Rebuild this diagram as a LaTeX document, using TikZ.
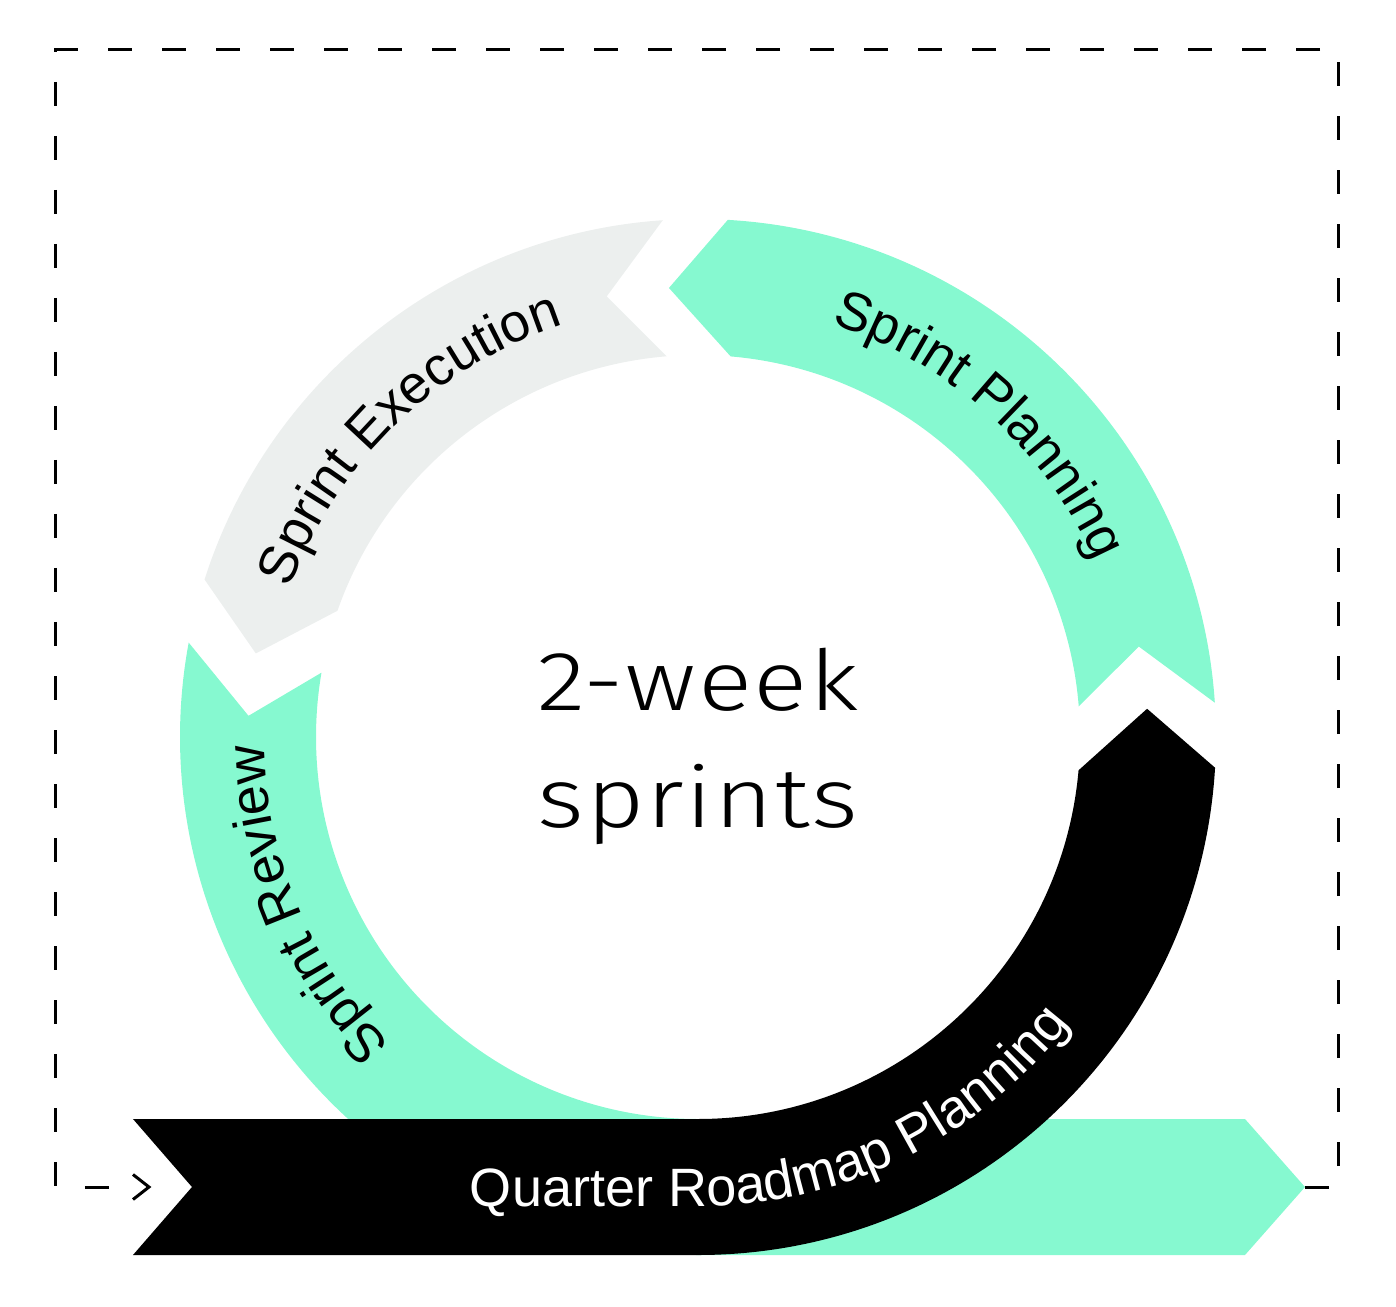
\documentclass[tikz,border=0pt]{standalone}
\usepackage{fontspec}
\setmainfont{Liberation Sans}
\newfontfamily\labelfont{Liberation Sans}
\newfontfamily\weekfont{Fira Sans Light}[FakeStretch=1.2, LetterSpace=2]
\usetikzlibrary{decorations.text, calc}
\definecolor{mint}{HTML}{86F9D0}
\definecolor{mist}{HTML}{ECEFEE}

\begin{document}
\begin{tikzpicture}[x=1pt, y=1pt,
    ringtext/.style={decorate, decoration={text along path, text align=center}},
    weektext/.style={anchor=base, font=\weekfont\fontsize{84}{84}\selectfont},
    frame/.style={line width=3pt, dash pattern=on 24pt off 30pt}]

    \def\Ro{518}
    \def\Ri{382}
    \def\Rm{450}

    \useasboundingbox (-698,-569) rectangle (698,737);

    % roadmap band
    \fill[mint] (0,-\Ri) -- (547,-\Ri) -- (607,-\Rm) coordinate (bandtip)
        -- (547,-\Ro) -- (0,-\Ro) -- cycle;

    % sprint review
    \fill[mint] (169.5:\Ro) arc[start angle=169.5, end angle=270, radius=\Ro]
        -- (270:\Ri) arc[start angle=270, end angle=170.3, radius=\Ri]
        -- (177.3:\Rm) -- cycle;

    % sprint execution
    \fill[mist] (93.9:\Ro) arc[start angle=93.9, end angle=162.3, radius=\Ro]
        -- (169.3:\Rm) -- (160.7:\Ri)
        arc[start angle=160.7, end angle=94.7, radius=\Ri]
        -- (101.7:\Rm) -- cycle;

    % sprint planning
    \fill[mint] (3.8:\Ro) arc[start angle=3.8, end angle=86.7, radius=\Ro]
        -- (93.7:\Rm) -- (85.1:\Ri)
        arc[start angle=85.1, end angle=4.6, radius=\Ri]
        -- (11.6:\Rm) -- cycle;

    % quarter roadmap
    \fill[black] (-565,-\Ri) -- (270:\Ri)
        arc[start angle=270, end angle=355, radius=\Ri]
        -- (3.6:\Rm) -- (356.6:\Ro)
        arc[start angle=356.6, end angle=270, radius=\Ro]
        -- (-565,-\Ro) -- (-506,-\Rm) -- cycle;

    % labels
    \path[ringtext, decoration={text={|\labelfont\fontsize{54}{54}\selectfont|Sprint Planning}}]
        (88:434) arc[start angle=88, end angle=8, radius=434];
    \path[ringtext, decoration={text={|\labelfont\fontsize{54}{54}\selectfont|Sprint Execution}}]
        (174:434) arc[start angle=174, end angle=94, radius=434];
    \path[ringtext, decoration={text={|\labelfont\fontsize{54}{54}\selectfont|Sprint Review}}]
        (243:434) arc[start angle=243, end angle=163, radius=434];
    \path[decorate, decoration={text along path, text align=left,
        text={|\labelfont\fontsize{54}{54}\selectfont\color{white}|Quarter Roadmap Planning}}]
        (-228,-469) -- (270:469) arc[start angle=270, end angle=360, radius=469];

    \node[weektext] (weektop) at (0,27) {2-week};
    \node[weektext] (weekbot) at (0,-90) {sprints};

    % frame
    \coordinate (frameend) at (-565,-\Rm);
    \coordinate (tip) at (-549,-\Rm);
    \draw[frame] (bandtip) -- (640,-\Rm) -- (640,687) -- (-642,687)
        -- (-642,-\Rm) -- (frameend);
    \draw[line width=3pt, line join=miter]
        ($(tip)+(-16,12.5)$) -- (tip) -- ($(tip)+(-16,-12.5)$);
\end{tikzpicture}
\end{document}
